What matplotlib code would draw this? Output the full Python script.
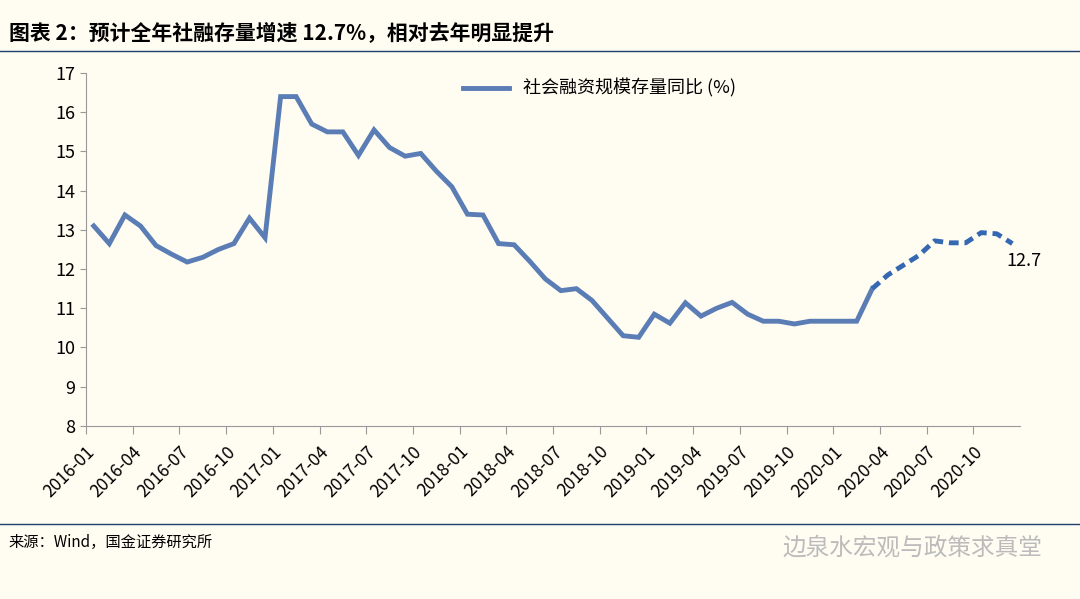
import matplotlib
matplotlib.use("Agg")
import matplotlib.pyplot as plt

plt.rcParams["font.family"] = ["Noto Sans CJK SC"]

months = [f"{y}-{m:02d}" for y in range(2016, 2021) for m in range(1, 13)]
values = [13.1, 12.65, 13.38, 13.1, 12.6, 12.38, 12.18, 12.3, 12.5, 12.65, 13.3, 12.8,
          16.4, 16.4, 15.7, 15.5, 15.5, 14.9, 15.55, 15.1, 14.88, 14.95, 14.5, 14.1,
          13.4, 13.38, 12.65, 12.62, 12.2, 11.75, 11.45, 11.5, 11.2, 10.75, 10.3, 10.26,
          10.85, 10.62, 11.14, 10.8, 11.0, 11.15, 10.85, 10.67, 10.67, 10.6, 10.67, 10.67,
          10.67, 10.67, 11.5, 11.85, 12.1, 12.35, 12.72, 12.67, 12.67, 12.93, 12.9, 12.65]
split = 50  # last actual point index (2020-03)
series_name = "社会融资规模存量同比 (%)"
end_label = "12.7"

bg = "#FFFCF2"
fig = plt.figure(figsize=(10.8, 5.99), dpi=100, facecolor=bg)
ax = fig.add_axes([0.0796, 0.289, 0.865, 0.589], facecolor=bg)
n = len(values)
x = list(range(n))
ax.plot(x[:split + 1], values[:split + 1], color="#5A7DB5", lw=3.5, label=series_name,
        solid_joinstyle="miter")
ax.plot(x[split:], values[split:], color="#3568B3", lw=3.5, ls=(0, (2, 1.2)))
ax.set_xlim(-0.5, n - 0.5)
ax.set_ylim(8, 17)
ax.set_yticks(range(8, 18))
ax.tick_params(axis="y", labelsize=13, length=4, color="#999999")
tick_pos = [i - 0.5 for i in range(0, n, 3)]
ax.set_xticks(tick_pos)
ax.set_xticklabels(months[::3], rotation=45, ha="right", rotation_mode="anchor", fontsize=12.5)
ax.tick_params(axis="x", length=6, color="#999999", pad=6)
for s in ["top", "right"]:
    ax.spines[s].set_visible(False)
for s in ["left", "bottom"]:
    ax.spines[s].set_color("#999999")
ax.text(n - 1.4, values[-1] - 0.45, end_label, fontsize=13, ha="left", va="center")
ax.legend(loc="upper center", bbox_to_anchor=(0.55, 1.03), frameon=False, fontsize=13,
          handlelength=2.5)

fig.text(0.008, 0.945, "图表 2：预计全年社融存量增速 12.7%，相对去年明显提升", fontsize=15,
         fontweight="bold", style="italic", va="center")
fig.add_artist(plt.Line2D([0.0, 1.0], [0.915, 0.915], color="#1F3E6B", lw=1))
fig.add_artist(plt.Line2D([0.0, 1.0], [0.125, 0.125], color="#1F3E6B", lw=1))
fig.text(0.008, 0.095, "来源：Wind，国金证券研究所", fontsize=11, va="center")
fig.text(0.965, 0.085, "边泉水宏观与政策求真堂", fontsize=17, va="center", ha="right",
         color="#BBBBBB")
fig.savefig("out.png", dpi=100, facecolor=bg)
